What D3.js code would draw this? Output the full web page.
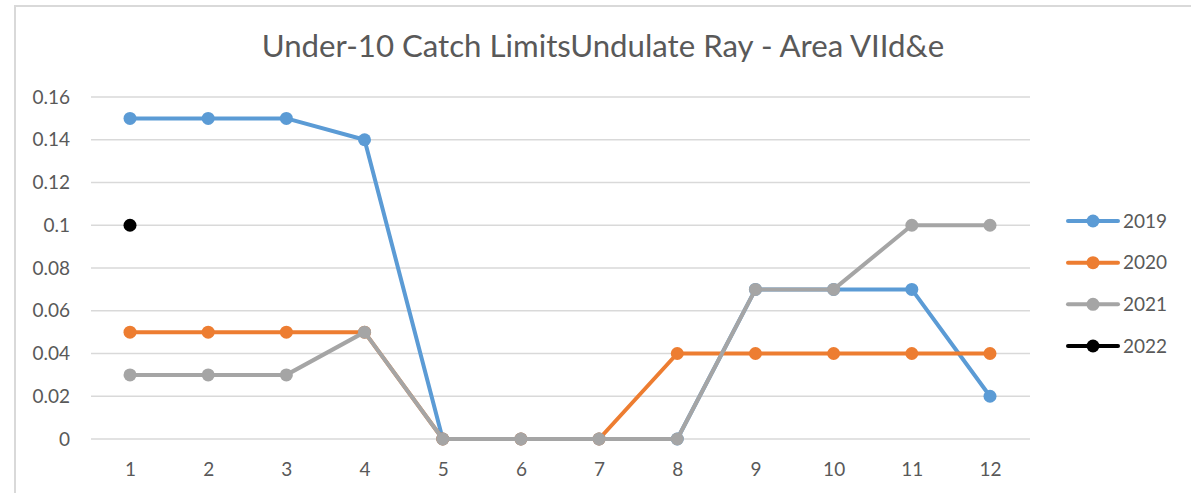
<!DOCTYPE html>
<html><head><meta charset="utf-8">
<script src="https://cdn.jsdelivr.net/npm/d3@7"></script>
<style>body{margin:0;background:#fff;}svg{display:block;}</style>
</head><body>
<svg id="c" width="1191" height="493"></svg>
<script>
const title = "Under-10 Catch LimitsUndulate Ray - Area VIId&e";
const months = [1,2,3,4,5,6,7,8,9,10,11,12];
const yTicks = [0,0.02,0.04,0.06,0.08,0.1,0.12,0.14,0.16];
const seriesNames = ["2019","2020","2021","2022"];
const colors = ["#5b9bd5","#ed7d31","#a5a5a5","#000000"];
const v2019 = [0.15,0.15,0.15,0.14,0,0,0,0,0.07,0.07,0.07,0.02];
const v2020 = [0.05,0.05,0.05,0.05,0,0,0,0.04,0.04,0.04,0.04,0.04];
const v2021 = [0.03,0.03,0.03,0.05,0,0,0,0,0.07,0.07,0.1,0.1];
const v2022 = [0.1,null,null,null,null,null,null,null,null,null,null,null];
const seriesValues = [v2019,v2020,v2021,v2022];

const svg = d3.select("#c");
const font = "Lato, 'Open Sans', sans-serif";
// border
svg.append("rect").attr("x",15).attr("y",6).attr("width",1180).attr("height",500)
  .attr("fill","#fff").attr("stroke","#d9d9d9").attr("stroke-width",2);

const x = d3.scalePoint().domain(months).range([130,990]);
const y = d3.scaleLinear().domain([0,0.16]).range([439,97]);
const gx0 = 91, gx1 = 1030;

// gridlines
svg.append("g").selectAll("line").data(yTicks).join("line")
  .attr("x1",gx0).attr("x2",gx1).attr("y1",d=>y(d)).attr("y2",d=>y(d))
  .attr("stroke","#d9d9d9").attr("stroke-width",1.5);

// y axis labels
const yAxis = d3.axisLeft(y).tickValues(yTicks).tickFormat(d=>String(+d.toFixed(2))).tickSize(0).tickPadding(0);
const ya = svg.append("g").attr("transform","translate(70,0)").call(yAxis);
ya.select(".domain").remove();
ya.selectAll("text").attr("font-family",font).attr("font-size",19).attr("fill","#595959");

// x axis labels
const xAxis = d3.axisBottom(x).tickSize(0).tickPadding(0);
const xa = svg.append("g").attr("transform","translate(0,462)").call(xAxis);
xa.select(".domain").remove();
xa.selectAll("text").attr("font-family",font).attr("font-size",19).attr("fill","#595959");

// title
const t = svg.append("text").attr("x",603).attr("y",57).attr("text-anchor","middle")
  .attr("font-family",font).attr("font-size",27).attr("fill","#595959").text(title);
const tw = t.node().getComputedTextLength();
t.attr("font-size", 27*683/tw);

// lines
const line = d3.line().defined(d=>d.v!==null).x(d=>x(d.m)).y(d=>y(d.v));
seriesValues.forEach((vals,i)=>{
  const pts = vals.map((v,j)=>({m:months[j],v}));
  const g = svg.append("g");
  g.append("path").datum(pts).attr("d",line).attr("fill","none")
    .attr("stroke",colors[i]).attr("stroke-width",4).attr("stroke-linejoin","round").attr("stroke-linecap","round");
  g.selectAll("circle").data(pts.filter(d=>d.v!==null)).join("circle")
    .attr("cx",d=>x(d.m)).attr("cy",d=>y(d.v)).attr("r",6.5).attr("fill",colors[i]);
});

// legend
const legY = d3.scalePoint().domain(seriesNames).range([221,346]);
const lg = svg.append("g");
seriesNames.forEach((n,i)=>{
  const yy = legY(n);
  lg.append("line").attr("x1",1068).attr("x2",1118).attr("y1",yy).attr("y2",yy)
    .attr("stroke",colors[i]).attr("stroke-width",4).attr("stroke-linecap","round");
  lg.append("circle").attr("cx",1093).attr("cy",yy).attr("r",6.5).attr("fill",colors[i]);
  lg.append("text").attr("x",1123).attr("y",yy).attr("dy","0.35em").attr("font-family",font)
    .attr("font-size",19).attr("fill","#595959").text(n);
});
</script>
</body></html>
